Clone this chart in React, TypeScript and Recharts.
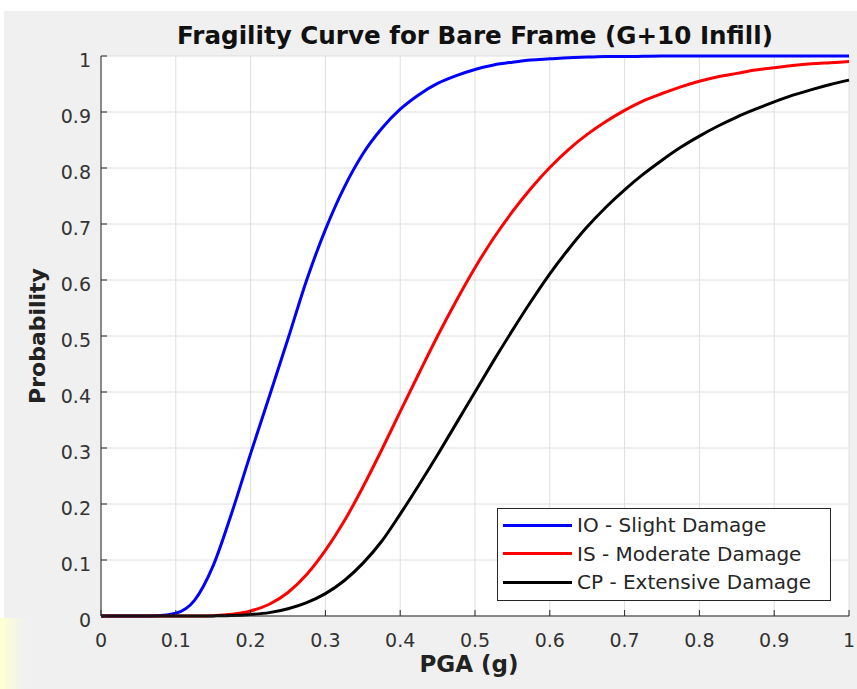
import { CartesianGrid, Legend, Line, LineChart, XAxis, YAxis } from "recharts";

const pga = [
  0, 0.025, 0.05, 0.075, 0.1, 0.125, 0.15, 0.175, 0.2, 0.225, 0.25, 0.275, 0.3, 0.325, 0.35, 0.375, 0.4,
  0.425, 0.45, 0.475, 0.5, 0.525, 0.55, 0.575, 0.6, 0.625, 0.65, 0.675, 0.7, 0.725, 0.75, 0.775, 0.8,
  0.825, 0.85, 0.875, 0.9, 0.925, 0.95, 0.975, 1,
];

// IO - Slight Damage
const slight = [
  0, 0, 0, 0.0005, 0.005, 0.028, 0.09, 0.185, 0.29, 0.392, 0.495, 0.6, 0.69, 0.765, 0.825, 0.87, 0.905,
  0.931, 0.951, 0.965, 0.976, 0.984, 0.989, 0.993, 0.995, 0.997, 0.998, 0.999, 0.999, 0.9995, 1, 1, 1,
  1, 1, 1, 1, 1, 1, 1, 1,
];

// IS - Moderate Damage
const moderate = [
  0, 0, 0, 0, 0, 0.0001, 0.0006, 0.003, 0.009, 0.021, 0.042, 0.074, 0.117, 0.169, 0.23, 0.296, 0.365,
  0.433, 0.5, 0.563, 0.622, 0.675, 0.722, 0.764, 0.801, 0.833, 0.86, 0.883, 0.903, 0.92, 0.933, 0.945, 0.955,
  0.963, 0.969, 0.975, 0.979, 0.983, 0.986, 0.988, 0.99,
];

// CP - Extensive Damage
const extensive = [
  0, 0, 0, 0, 0, 0, 0.0002, 0.0008, 0.0027, 0.006, 0.013, 0.024, 0.04, 0.063, 0.094, 0.133, 0.182,
  0.234, 0.288, 0.344, 0.4, 0.456, 0.51, 0.562, 0.611, 0.655, 0.695, 0.73, 0.761, 0.789, 0.814, 0.837, 0.857,
  0.875, 0.891, 0.905, 0.918, 0.93, 0.94, 0.949, 0.957,
];

const xTicks = [0, 0.1, 0.2, 0.3, 0.4, 0.5, 0.6, 0.7, 0.8, 0.9, 1];
const yTicks = [0, 0.1, 0.2, 0.3, 0.4, 0.5, 0.6, 0.7, 0.8, 0.9, 1];
const seriesNames = ["IO - Slight Damage", "IS - Moderate Damage", "CP - Extensive Damage"];

const rows = pga.map((x, i) => ({
  pga: x,
  io: slight[i],
  is: moderate[i],
  cp: extensive[i],
}));

const FONT = "'DejaVu Sans', sans-serif";
const AXIS = "#262626";

function LegendBox({ payload }: any) {
  const items = [...(payload || [])].sort(
    (a: any, b: any) => seriesNames.indexOf(a.value) - seriesNames.indexOf(b.value)
  );
  return (
    <div
      style={{
        width: 332,
        height: 89,
        border: `1px solid ${AXIS}`,
        background: "#fff",
        paddingTop: 2,
        fontFamily: FONT,
      }}
    >
      {items.map((item: any) => (
        <div key={item.value} style={{ display: "flex", alignItems: "center", height: 28.5 }}>
          <span style={{ width: 69, height: 3, background: item.color, marginLeft: 5, marginRight: 5 }} />
          <span style={{ fontSize: 20, color: AXIS, whiteSpace: "nowrap" }}>{item.value}</span>
        </div>
      ))}
    </div>
  );
}

export default function App() {
  return (
    <div
      style={{
        position: "absolute",
        left: 0,
        top: 0,
        width: 857,
        height: 689,
        background: "#fff",
        overflow: "hidden",
        fontFamily: FONT,
      }}
    >
      <div style={{ position: "absolute", left: 4, top: 11, right: 0, bottom: 0, background: "#f0f0f0" }} />
      <div
        style={{
          position: "absolute",
          left: 0,
          top: 618,
          width: 26,
          height: 71,
          background: "linear-gradient(to right, rgba(255,255,210,1), rgba(255,255,225,0))",
        }}
      />
      <div
        style={{
          position: "absolute",
          left: 101,
          width: 748,
          top: 24,
          lineHeight: "24px",
          fontSize: 24.6,
          fontWeight: "bold",
          textAlign: "center",
          color: "#111",
        }}
      >
        Fragility Curve for Bare Frame (G+10 Infill)
      </div>
      <div style={{ position: "absolute", left: 0, top: 0 }}>
        <LineChart width={857} height={689} data={rows} margin={{ top: 56, right: 8, left: 0, bottom: 0 }}>
          <CartesianGrid stroke="#dedede" fill="#fff" />
          <XAxis
            dataKey="pga"
            type="number"
            domain={[0, 1]}
            ticks={xTicks}
            height={73}
            tickSize={-6}
            tickMargin={24}
            axisLine={{ stroke: AXIS }}
            tickLine={{ stroke: AXIS }}
            tick={{ fill: "#333", fontSize: 19, fontFamily: FONT }}
            label={{
              value: "PGA (g)",
              position: "insideBottom",
              offset: 17,
              dx: -6,
              style: { fill: "#222", fontSize: 23, fontWeight: "bold", fontFamily: FONT },
            }}
          />
          <YAxis
            type="number"
            domain={[0, 1]}
            ticks={yTicks}
            width={101}
            tickSize={-6}
            tickMargin={16}
            axisLine={{ stroke: AXIS }}
            tickLine={{ stroke: AXIS }}
            tick={{ fill: "#333", fontSize: 19, fontFamily: FONT, dy: 4 }}
            label={{
              value: "Probability",
              position: "insideLeft",
              content: ({ viewBox }: any) => (
                <text
                  x={37}
                  y={viewBox.y + viewBox.height / 2}
                  transform={`rotate(-90, 37, ${viewBox.y + viewBox.height / 2})`}
                  textAnchor="middle"
                  dominantBaseline="central"
                  fill="#222"
                  fontSize={22}
                  fontWeight="bold"
                  fontFamily={FONT}
                >
                  Probability
                </text>
              ),
            }}
          />
          <Legend
            layout="vertical"
            align="center"
            verticalAlign="middle"
            wrapperStyle={{ position: "absolute", left: 497, top: 508, width: 334, height: 91 }}
            content={<LegendBox />}
          />
          <Line
            type="monotone"
            dataKey="io"
            name={seriesNames[0]}
            stroke="#0000ff"
            strokeWidth={3}
            dot={false}
            isAnimationActive={false}
          />
          <Line
            type="monotone"
            dataKey="is"
            name={seriesNames[1]}
            stroke="#ff0000"
            strokeWidth={3}
            dot={false}
            isAnimationActive={false}
          />
          <Line
            type="monotone"
            dataKey="cp"
            name={seriesNames[2]}
            stroke="#000000"
            strokeWidth={3}
            dot={false}
            isAnimationActive={false}
          />
        </LineChart>
      </div>
    </div>
  );
}
